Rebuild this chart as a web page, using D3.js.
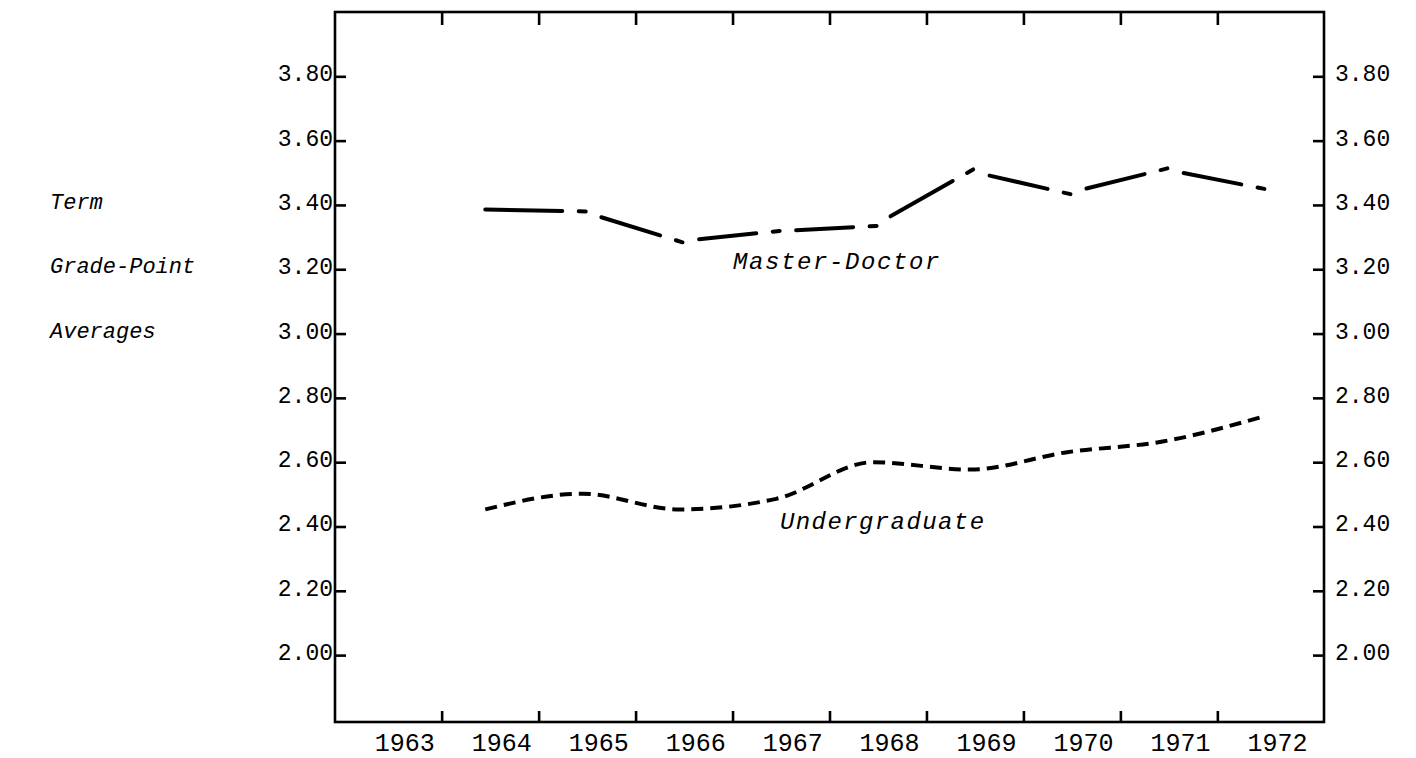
<!DOCTYPE html>
<html>
<head>
<meta charset="utf-8">
<script src="https://cdn.jsdelivr.net/npm/d3@7"></script>
<style>
  body { margin: 0; background: #fff; }
  svg { display: block; }
</style>
</head>
<body>
<svg width="1416" height="758"></svg>
<script>
// data
let years = [1964, 1965, 1966, 1967, 1968, 1969, 1970, 1971, 1972]
let masterDoctor = [3.386, 3.380, 3.287, 3.318, 3.334, 3.505, 3.436, 3.511, 3.452]
let undergraduate = [2.453, 2.502, 2.453, 2.486, 2.600, 2.577, 2.631, 2.665, 2.740]
let yearLabels = [1963, 1964, 1965, 1966, 1967, 1968, 1969, 1970, 1971, 1972]
let yTicks = [2.00, 2.20, 2.40, 2.60, 2.80, 3.00, 3.20, 3.40, 3.60, 3.80]
let yTitle = ["Term", "Grade-Point", "Averages"]
let yTitleAt = [3.40, 3.20, 3.00]

const typeFont = "'Liberation Mono', 'DejaVu Sans Mono', monospace"

let svg = d3.select("svg")

let x = d3.scaleLinear()
          .domain([1962.45, 1972.65])
          .range([335, 1324])

let y = d3.scaleLinear()
          .domain([1.792, 4.0])
          .range([722, 12])

// frame
svg.append("rect")
   .attr("x", x.range()[0])
   .attr("y", y.range()[1])
   .attr("width", x.range()[1] - x.range()[0])
   .attr("height", y.range()[0] - y.range()[1])
   .attr("fill", "none")
   .attr("stroke", "#000")
   .attr("stroke-width", 2.6)

// year ticks sit between the labels, top and bottom
let tickYears = yearLabels.slice(0, -1).map(d => d + 0.55)

let axisBottom = d3.axisBottom(x)
                   .tickValues(tickYears)
                   .tickSize(-11)
                   .tickFormat("")
let axisTop = d3.axisTop(x)
                .tickValues(tickYears)
                .tickSize(-13)
                .tickFormat("")

let gBottom = svg.append("g")
                 .attr("transform", `translate(0, ${y.range()[0]})`)
                 .call(axisBottom)
let gTop = svg.append("g")
              .attr("transform", `translate(0, ${y.range()[1]})`)
              .call(axisTop)

let gLeft = svg.append("g")
               .attr("transform", `translate(${x.range()[0]}, 0)`)
               .call(d3.axisLeft(y).tickValues(yTicks).tickSize(-11).tickFormat(""))
let gRight = svg.append("g")
                .attr("transform", `translate(${x.range()[1]}, 0)`)
                .call(d3.axisRight(y).tickValues(yTicks).tickSize(-11).tickFormat(""))

svg.selectAll(".domain").remove()
svg.selectAll(".tick line")
   .attr("stroke", "#000")
   .attr("stroke-width", 2.6)

// year labels
svg.append("g")
   .selectAll("text")
   .data(yearLabels)
   .enter()
   .append("text")
   .attr("x", d => x(d + 0.17))
   .attr("y", 751)
   .attr("text-anchor", "middle")
   .style("font-family", typeFont)
   .style("font-size", "25px")
   .text(d => d)

// value labels, both sides
svg.append("g")
   .selectAll("text")
   .data(yTicks)
   .enter()
   .append("text")
   .attr("x", x.range()[0] - 2)
   .attr("y", d => y(d) + 5)
   .attr("text-anchor", "end")
   .style("font-family", typeFont)
   .style("font-size", "23px")
   .text(d => d.toFixed(2))

svg.append("g")
   .selectAll("text")
   .data(yTicks)
   .enter()
   .append("text")
   .attr("x", x.range()[1] + 11)
   .attr("y", d => y(d) + 5)
   .style("font-family", typeFont)
   .style("font-size", "23px")
   .text(d => d.toFixed(2))

// axis title, three lines
svg.append("g")
   .selectAll("text")
   .data(yTitle)
   .enter()
   .append("text")
   .attr("x", 50)
   .attr("y", (d, i) => y(yTitleAt[i]) + 4)
   .style("font-family", typeFont)
   .style("font-style", "italic")
   .style("font-size", "22px")
   .text(d => d)

// undergraduate: short dashes on a smooth curve
let ugLine = d3.line()
               .x((d, i) => x(years[i]))
               .y(d => y(d))
               .curve(d3.curveMonotoneX)

svg.append("path")
   .datum(undergraduate)
   .attr("d", ugLine)
   .attr("fill", "none")
   .attr("stroke", "#000")
   .attr("stroke-width", 4)
   .attr("stroke-dasharray", "12 7")

// master-doctor: a dash in each segment, a dot at every later point
let mdPts = masterDoctor.map((d, i) => [x(years[i]), y(d)])
let gap = 20
let dot = 7

let mdG = svg.append("g")
             .attr("stroke", "#000")
             .attr("stroke-width", 4)
             .attr("stroke-linecap", "round")

for (let i = 0; i < mdPts.length - 1; i++) {
  let p0 = mdPts[i]
  let p1 = mdPts[i + 1]
  let dx = p1[0] - p0[0]
  let dy = p1[1] - p0[1]
  let len = Math.sqrt(dx * dx + dy * dy)
  let ux = dx / len
  let uy = dy / len
  let s0 = i === 0 ? 0 : gap
  let s1 = len - gap
  mdG.append("line")
     .attr("x1", p0[0] + ux * s0)
     .attr("y1", p0[1] + uy * s0)
     .attr("x2", p0[0] + ux * s1)
     .attr("y2", p0[1] + uy * s1)
  mdG.append("line")
     .attr("x1", p1[0] - ux * dot / 2)
     .attr("y1", p1[1] - uy * dot / 2)
     .attr("x2", p1[0] + ux * dot / 2)
     .attr("y2", p1[1] + uy * dot / 2)
}

// series names
svg.append("text")
   .attr("x", 733)
   .attr("y", 269)
   .style("font-family", typeFont)
   .style("font-style", "italic")
   .style("font-size", "24px")
   .style("letter-spacing", "1.6px")
   .text("Master-Doctor")

svg.append("text")
   .attr("x", 780)
   .attr("y", 529)
   .style("font-family", typeFont)
   .style("font-style", "italic")
   .style("font-size", "24px")
   .style("letter-spacing", "1.4px")
   .text("Undergraduate")
</script>
</body>
</html>
